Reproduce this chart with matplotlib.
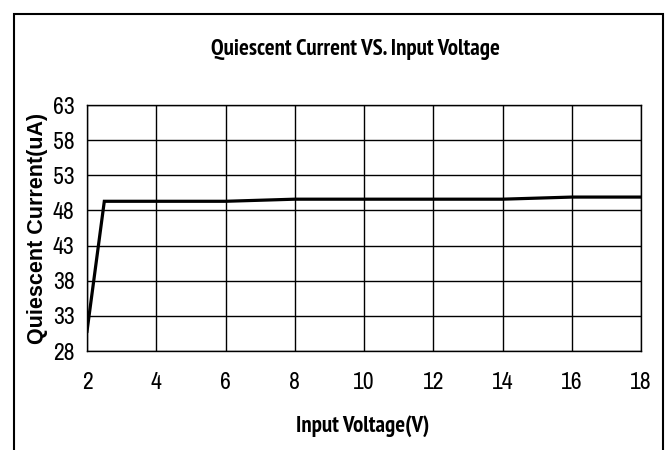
import matplotlib.pyplot as plt
from matplotlib.patches import Rectangle

# data
voltage = [2, 2.5, 6, 8, 14, 16, 18]
current = [30.8, 49.3, 49.3, 49.6, 49.6, 49.9, 49.9]
xticks = [2, 4, 6, 8, 10, 12, 14, 16, 18]
yticks = [28, 33, 38, 43, 48, 53, 58, 63]

plt.rcParams['font.family'] = ['Archivo Narrow', 'DejaVu Sans']
bold_narrow = ['PT Sans Narrow', 'DejaVu Sans']

fig = plt.figure(figsize=(6.67, 4.5), dpi=100)
ax = fig.add_axes([87 / 667, 1 - 351 / 450, 554 / 667, 246 / 450])

ax.plot(voltage, current, color='black', lw=2.3, solid_joinstyle='miter')
ax.set_xlim(2, 18)
ax.set_ylim(28, 63)
ax.set_xticks(xticks)
ax.set_yticks(yticks)
ax.grid(True, color='black', lw=1)
ax.tick_params(length=0, labelsize=17)
ax.tick_params(axis='y', pad=9)
ax.tick_params(axis='x', pad=15)
for s in ax.spines.values():
    s.set_color('black')
    s.set_linewidth(1)

ax.set_xlabel('Input Voltage(V)', fontsize=16.5, fontweight='bold', family=bold_narrow)
ax.xaxis.set_label_coords(0.497, -75 / 246)
ax.xaxis.label.set_va('center')
ax.set_ylabel('Quiescent Current(uA)', fontsize=15.5, fontweight='bold',
              family=['Liberation Sans', 'DejaVu Sans'])
ax.yaxis.set_label_coords(-49 / 554, 0.5)
ax.yaxis.label.set_va('center')
fig.text(355 / 667, 1 - 50 / 450, 'Quiescent Current VS. Input Voltage',
         ha='center', va='center', fontsize=16.5, fontweight='bold', family=bold_narrow)

# outer frame, running off the bottom of the picture
fig.patches.append(Rectangle((14 / 667, -0.05), 649 / 667, 1 - 14 / 450 + 0.05,
                             transform=fig.transFigure, fill=False,
                             edgecolor='black', lw=1.5))

fig.savefig('out.png', dpi=100)
